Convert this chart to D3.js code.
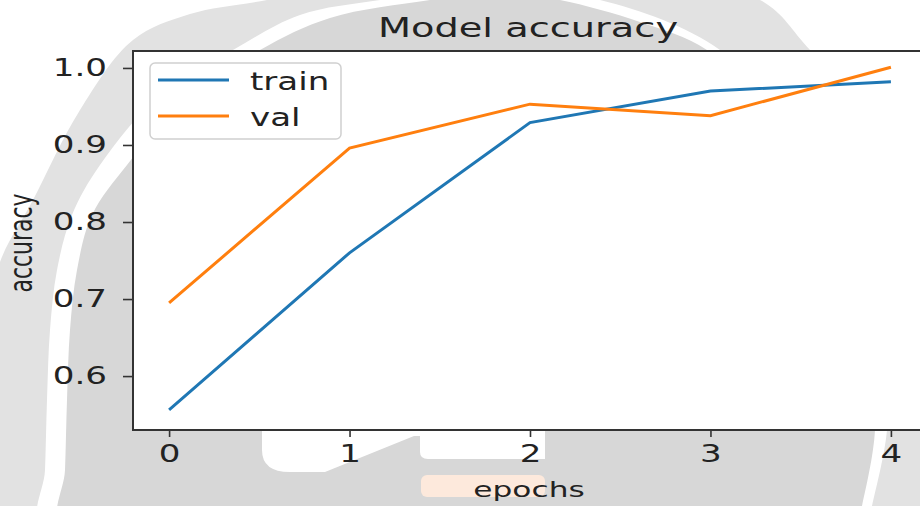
<!DOCTYPE html>
<html>
<head>
<meta charset="utf-8">
<script src="https://cdn.jsdelivr.net/npm/d3@7"></script>
<style>
  body { margin: 0; background: #fff; }
  svg { display: block; font-family: "DejaVu Sans", sans-serif; }
</style>
</head>
<body>
<div id="chart"></div>
<script>
const epochs = [0, 1, 2, 3, 4];
const trainAcc = [0.556, 0.760, 0.929, 0.970, 0.982];
const valAcc = [0.695, 0.896, 0.953, 0.938, 1.001];
const yTicks = [0.6, 0.7, 0.8, 0.9, 1.0];
const seriesNames = ['train', 'val'];
const seriesColors = ['#1f77b4', '#ff7f0e'];

const width = 920, height = 506;
const sx = 1.42; // picture is stretched sideways
const plot = { left: 133, right: 927, top: 51, bottom: 430 };

const svg = d3.select('#chart').append('svg').attr('width', width).attr('height', height);

// faded logo behind the figure (outer ring, white gap, inner disc)
const blob = d3.line().curve(d3.curveCatmullRomClosed);
const outerRing = [[-30, 420], [-12, 320], [0, 262], [33, 200], [80, 110], [133, 40], [190, 14], [267, 0],
  [420, -30], [620, -28], [760, 0], [810, 50], [900, 150], [990, 300], [990, 560], [450, 600], [-30, 560]];
const gapRing = [[42, 530], [45, 470], [47, 400], [50, 330], [57, 270], [72, 215], [100, 165], [160, 95],
  [233, 50], [300, 15], [380, 0], [480, -12], [600, 0], [720, 50], [800, 140], [860, 260], [886, 370],
  [887, 430], [872, 506], [866, 530], [450, 580]];
const innerDisc = [[62, 530], [65, 470], [67, 400], [70, 330], [77, 270], [92, 215], [127, 165], [180, 105],
  [260, 50], [330, 18], [430, 0], [500, -8], [560, 0], [640, 22], [707, 50], [780, 120], [840, 230],
  [870, 340], [875, 430], [862, 506], [856, 530], [450, 570]];

const wm = svg.append('g');
wm.append('path').attr('d', blob(outerRing)).attr('fill', '#e2e2e2');
wm.append('path').attr('d', blob(gapRing)).attr('fill', '#ffffff');
wm.append('path').attr('d', blob(innerDisc)).attr('fill', '#d7d7d7');
wm.append('path')
  .attr('d', 'M262,430 V450 Q262,472 290,472 H325 L414,436 L420,436 V452 Q420,459 428,459 H545 V430 Z')
  .attr('fill', '#ffffff');
wm.append('rect').attr('x', 421).attr('y', 475).attr('width', 124).attr('height', 22).attr('rx', 6).attr('fill', '#fde9dc');

const x = d3.scaleLinear().domain([-0.2, 4.2]).range([plot.left, plot.right]);
const y = d3.scaleLinear().domain([0.53, 1.022]).range([plot.bottom, plot.top]);

svg.append('rect')
  .attr('x', plot.left).attr('y', plot.top)
  .attr('width', plot.right - plot.left).attr('height', plot.bottom - plot.top)
  .attr('fill', '#fff');

const line = d3.line().x((d, i) => x(epochs[i])).y((d) => y(d));

[trainAcc, valAcc].forEach((values, i) => {
  svg.append('path')
    .datum(values)
    .attr('d', line)
    .attr('fill', 'none')
    .attr('stroke', seriesColors[i])
    .attr('stroke-width', 3);
});

// axes
const xAxis = svg.append('g')
  .attr('transform', `translate(0,${plot.bottom})`)
  .call(d3.axisBottom(x).tickValues(epochs).tickFormat(d3.format('d')).tickSize(7).tickSizeOuter(0).tickPadding(8));
xAxis.select('.domain').remove();
xAxis.selectAll('line').attr('stroke', '#333').attr('stroke-width', 1.6);
xAxis.selectAll('text')
  .attr('fill', '#222')
  .attr('font-size', 24)
  .attr('font-family', '"DejaVu Sans", sans-serif')
  .attr('transform', `scale(${sx},1)`);

const yAxis = svg.append('g')
  .attr('transform', `translate(${plot.left},0)`)
  .call(d3.axisLeft(y).tickValues(yTicks).tickFormat(d3.format('.1f')).tickSize(10).tickSizeOuter(0));
yAxis.select('.domain').remove();
yAxis.selectAll('line').attr('stroke', '#333').attr('stroke-width', 1.6);
yAxis.selectAll('text')
  .attr('fill', '#222')
  .attr('font-size', 24)
  .attr('font-family', '"DejaVu Sans", sans-serif')
  .attr('x', -26 / sx)
  .attr('transform', `scale(${sx},1)`);

// spines
svg.append('rect')
  .attr('x', plot.left).attr('y', plot.top)
  .attr('width', plot.right - plot.left).attr('height', plot.bottom - plot.top)
  .attr('fill', 'none').attr('stroke', '#333').attr('stroke-width', 2);

// titles
svg.append('text')
  .attr('transform', `translate(528,37) scale(${sx},1)`)
  .attr('text-anchor', 'middle')
  .attr('font-size', 27)
  .attr('fill', '#222')
  .text('Model accuracy');

svg.append('text')
  .attr('transform', `translate(529,497) scale(${sx},1)`)
  .attr('text-anchor', 'middle')
  .attr('font-size', 22)
  .attr('fill', '#222')
  .text('epochs');

svg.append('text')
  .attr('transform', `translate(32,243) scale(${sx},1) rotate(-90)`)
  .attr('text-anchor', 'middle')
  .attr('font-size', 22)
  .attr('fill', '#222')
  .text('accuracy');

// legend
const legend = svg.append('g');
legend.append('rect')
  .attr('x', 150).attr('y', 63).attr('width', 191).attr('height', 76).attr('rx', 5)
  .attr('fill', '#fff').attr('stroke', '#d0d0d0').attr('stroke-width', 1.5);
seriesNames.forEach((name, i) => {
  const ly = 80 + i * 36;
  legend.append('line')
    .attr('x1', 158).attr('x2', 229).attr('y1', ly).attr('y2', ly)
    .attr('stroke', seriesColors[i]).attr('stroke-width', 3);
  legend.append('text')
    .attr('transform', `translate(250,${ly + 10}) scale(${sx},1)`)
    .attr('font-size', 24)
    .attr('fill', '#222')
    .text(name);
});
</script>
</body>
</html>
